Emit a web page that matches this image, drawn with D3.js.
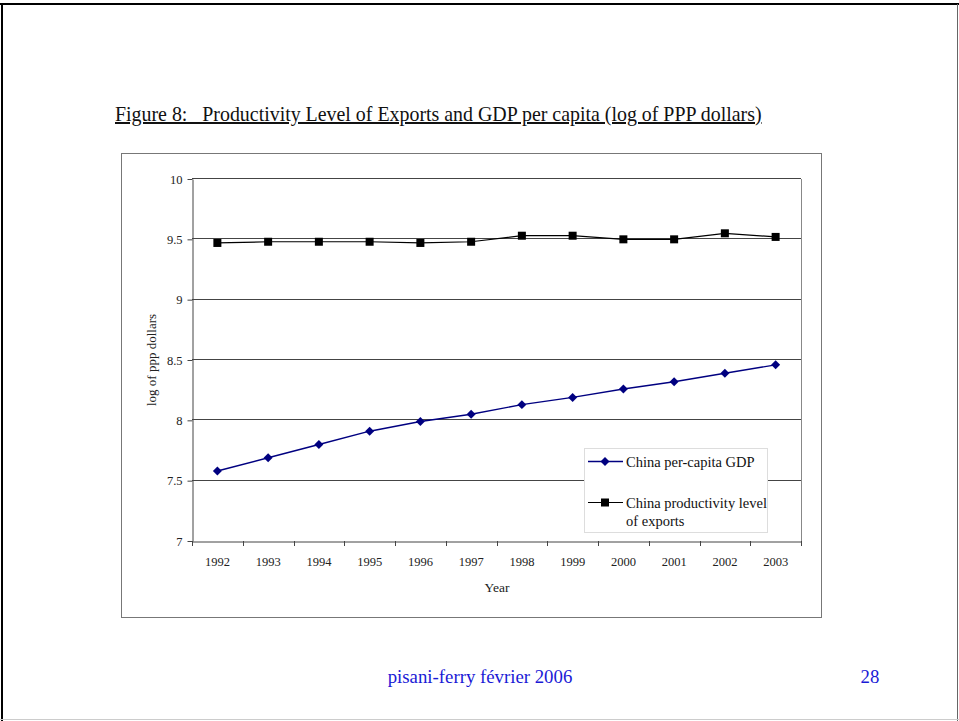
<!DOCTYPE html>
<html>
<head>
<meta charset="utf-8">
<script src="https://cdn.jsdelivr.net/npm/d3@7"></script>
<style>
  body { margin: 0; background: #fff; }
  svg { display: block; }
</style>
</head>
<body>
<svg id="chart" width="959" height="721"></svg>
<script>
// chart data
const years = ['1992', '1993', '1994', '1995', '1996', '1997', '1998', '1999', '2000', '2001', '2002', '2003'];
const gdpPerCapita = [7.58, 7.69, 7.80, 7.91, 7.99, 8.05, 8.13, 8.19, 8.26, 8.32, 8.39, 8.46];
const exportProductivity = [9.47, 9.48, 9.48, 9.48, 9.47, 9.48, 9.53, 9.53, 9.50, 9.50, 9.55, 9.52];
const yTicks = [7, 7.5, 8, 8.5, 9, 9.5, 10];
const yTickLabels = ['7', '7.5', '8', '8.5', '9', '9.5', '10'];

const SERIF = "'Liberation Serif', 'DejaVu Serif', serif";
const svg = d3.select('#chart').attr('font-family', SERIF);

// slide frame
svg.append('line').attr('x1', 0).attr('x2', 959).attr('y1', 4).attr('y2', 4)
  .attr('stroke', '#000').attr('stroke-width', 2);
svg.append('line').attr('x1', 2).attr('x2', 2).attr('y1', 3).attr('y2', 721)
  .attr('stroke', '#000').attr('stroke-width', 2);
svg.append('line').attr('x1', 957.5).attr('x2', 957.5).attr('y1', 4).attr('y2', 721)
  .attr('stroke', '#666').attr('stroke-width', 1);
svg.append('line').attr('x1', 0).attr('x2', 959).attr('y1', 719.5).attr('y2', 719.5)
  .attr('stroke', '#ccc').attr('stroke-width', 1);

// figure title
svg.append('text')
  .attr('x', 115).attr('y', 121)
  .attr('font-family', SERIF)
  .attr('font-size', '19.9px')
  .attr('fill', '#111')
  .attr('text-decoration', 'underline')
  .attr('xml:space', 'preserve')
  .text('Figure 8:   Productivity Level of Exports and GDP per capita (log of PPP dollars)');

// chart box
svg.append('rect')
  .attr('x', 121.5).attr('y', 153.5).attr('width', 700).attr('height', 464)
  .attr('fill', '#fff').attr('stroke', '#777').attr('stroke-width', 1);

const plot = { left: 192, right: 801, top: 179, bottom: 541 };

const x = d3.scaleBand().domain(years).range([plot.left, plot.right]);
const y = d3.scaleLinear().domain([7, 10]).range([plot.bottom, plot.top]);

const g = svg.append('g');

// gridlines
g.append('g')
  .selectAll('line')
  .data(yTicks.slice(1))
  .join('line')
  .attr('x1', plot.left).attr('x2', plot.right)
  .attr('y1', d => Math.round(y(d)) - 0.5).attr('y2', d => Math.round(y(d)) - 0.5)
  .attr('stroke', '#444').attr('stroke-width', 1);

// right edge of plot area
g.append('line')
  .attr('x1', plot.right + 0.5).attr('x2', plot.right + 0.5)
  .attr('y1', plot.top).attr('y2', plot.bottom)
  .attr('stroke', '#888');

// y axis
const yAxis = g.append('g')
  .attr('transform', `translate(${plot.left + 0.5},0)`)
  .call(d3.axisLeft(y).tickValues(yTicks).tickSize(5).tickSizeOuter(0)
    .tickFormat((d, i) => yTickLabels[i]));
yAxis.attr('font-family', SERIF).attr('font-size', 12.5);
yAxis.select('.domain').attr('stroke', '#444');
yAxis.selectAll('.tick line').attr('stroke', '#444');
yAxis.selectAll('.tick text').attr('fill', '#222').attr('dx', '-2');

// x axis, ticks at category boundaries
const xAxis = g.append('g')
  .attr('transform', `translate(0,${plot.bottom + 0.5})`)
  .call(d3.axisBottom(x).tickSize(0).tickSizeOuter(0));
xAxis.attr('font-family', SERIF).attr('font-size', 12.5);
xAxis.select('.domain').attr('stroke', '#444');
xAxis.selectAll('.tick text').attr('fill', '#222').attr('dy', '1.7em');
g.append('g')
  .selectAll('line')
  .data(years.concat(['end']))
  .join('line')
  .attr('x1', (d, i) => Math.round(plot.left + i * x.step()) + 0.5)
  .attr('x2', (d, i) => Math.round(plot.left + i * x.step()) + 0.5)
  .attr('y1', plot.bottom).attr('y2', plot.bottom + 5)
  .attr('stroke', '#444');

// axis titles
svg.append('text')
  .attr('x', 497).attr('y', 592)
  .attr('text-anchor', 'middle')
  .attr('font-family', SERIF)
  .attr('font-size', '13.5px').attr('fill', '#222')
  .text('Year');
svg.append('text')
  .attr('transform', 'translate(156,360) rotate(-90)')
  .attr('text-anchor', 'middle')
  .attr('font-family', SERIF)
  .attr('font-size', '13px').attr('fill', '#222')
  .text('log of ppp dollars');

const line = d3.line()
  .x((d, i) => x(years[i]) + x.bandwidth() / 2)
  .y(d => y(d));

// export productivity series
g.append('path')
  .datum(exportProductivity)
  .attr('d', line)
  .attr('fill', 'none').attr('stroke', '#000').attr('stroke-width', 1.2);
g.append('g')
  .selectAll('rect')
  .data(exportProductivity)
  .join('rect')
  .attr('x', (d, i) => x(years[i]) + x.bandwidth() / 2 - 4)
  .attr('y', d => y(d) - 4)
  .attr('width', 8).attr('height', 8)
  .attr('fill', '#000');

// GDP per capita series
const navy = '#000080';
const diamond = d3.symbol().type(d3.symbolSquare).size(40);
g.append('path')
  .datum(gdpPerCapita)
  .attr('d', line)
  .attr('fill', 'none').attr('stroke', navy).attr('stroke-width', 1.4);
g.append('g')
  .selectAll('path')
  .data(gdpPerCapita)
  .join('path')
  .attr('transform', (d, i) => `translate(${x(years[i]) + x.bandwidth() / 2},${y(d)}) rotate(45)`)
  .attr('d', diamond)
  .attr('fill', navy);

// legend
const legend = svg.append('g').attr('font-family', SERIF);
legend.append('rect')
  .attr('x', 584.5).attr('y', 448.5).attr('width', 183).attr('height', 84)
  .attr('fill', '#fff').attr('stroke', '#ddd');
legend.append('line')
  .attr('x1', 588).attr('x2', 623).attr('y1', 461.5).attr('y2', 461.5)
  .attr('stroke', navy).attr('stroke-width', 1.4);
legend.append('path')
  .attr('transform', 'translate(605,461.5) rotate(45)')
  .attr('d', diamond)
  .attr('fill', navy);
legend.append('text')
  .attr('x', 626).attr('y', 466.5)
  .attr('font-size', '14.5px').attr('fill', '#111')
  .text('China per-capita GDP');
legend.append('line')
  .attr('x1', 588).attr('x2', 623).attr('y1', 502.5).attr('y2', 502.5)
  .attr('stroke', '#000').attr('stroke-width', 1.2);
legend.append('rect')
  .attr('x', 601).attr('y', 498.5).attr('width', 8).attr('height', 8)
  .attr('fill', '#000');
legend.append('text')
  .attr('x', 626).attr('y', 507.5)
  .attr('font-size', '14.5px').attr('fill', '#111')
  .text('China productivity level');
legend.append('text')
  .attr('x', 626).attr('y', 525.5)
  .attr('font-size', '14.5px').attr('fill', '#111')
  .text('of exports');

// slide footer
svg.append('text')
  .attr('x', 480).attr('y', 683)
  .attr('text-anchor', 'middle')
  .attr('font-family', SERIF)
  .attr('font-size', '18.8px').attr('fill', '#1a1ad6')
  .text('pisani-ferry février 2006');
svg.append('text')
  .attr('x', 870).attr('y', 683)
  .attr('text-anchor', 'middle')
  .attr('font-family', SERIF)
  .attr('font-size', '18.8px').attr('fill', '#1a1ad6')
  .text('28');
</script>
</body>
</html>
